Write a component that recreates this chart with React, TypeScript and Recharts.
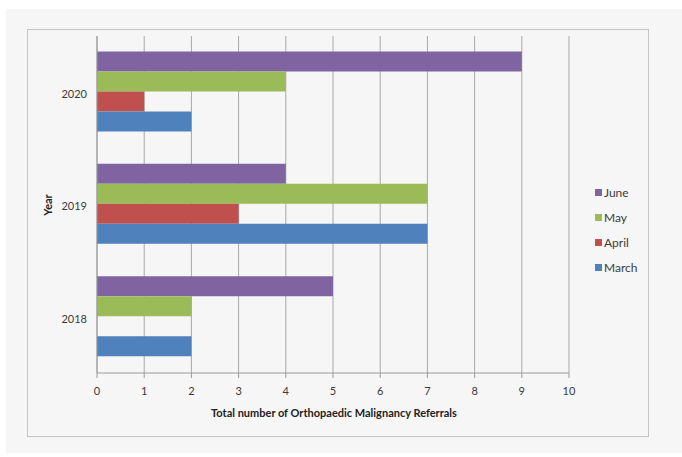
import React from 'react';
import { BarChart, Bar, XAxis, YAxis, CartesianGrid, Legend } from 'recharts';

const years = ['2020', '2019', '2018'];
const marchValues = [2, 7, 2];
const aprilValues = [1, 3, 0];
const mayValues = [4, 7, 2];
const juneValues = [9, 4, 5];
const xTicks = [0, 1, 2, 3, 4, 5, 6, 7, 8, 9, 10];
const boundaryTicks = [0, 1, 2, 3];

const seriesNames = ['June', 'May', 'April', 'March'];
const seriesColors = ['#8064A2', '#9BBB59', '#C0504D', '#4F81BD'];

const data = years.map((y, i) => ({
  year: y,
  March: marchValues[i],
  April: aprilValues[i],
  May: mayValues[i],
  June: juneValues[i],
}));

const FONT = 'Lato, "Open Sans", sans-serif';
const TEXT = '#3a3a3a';

const renderLegend = () => (
  <div style={{ fontFamily: FONT, fontSize: 12, color: TEXT }}>
    {seriesNames.map((name, i) => (
      <div key={name} style={{ display: 'flex', alignItems: 'center', height: 25 }}>
        <span style={{ display: 'inline-block', width: 7, height: 7, background: seriesColors[i], marginRight: 2 }} />
        <span>{name}</span>
      </div>
    ))}
  </div>
);

export default function App() {
  return (
    <div style={{ position: 'absolute', left: 0, top: 0, width: 682, height: 457, background: '#ffffff' }}>
      <div style={{ position: 'absolute', left: 6, top: 9, width: 676, height: 444, background: '#f6f6f6' }} />
      <div style={{ position: 'absolute', left: 27, top: 29, width: 622, height: 408, border: '1px solid #c4c4c4', boxSizing: 'border-box' }} />
      <div style={{ position: 'absolute', left: 0, top: 0 }}>
        <BarChart
          width={682}
          height={457}
          data={data}
          layout="vertical"
          margin={{ top: 36, right: 113, bottom: 0, left: 0 }}
          barCategoryGap={15.5}
          barGap={0}
        >
          <CartesianGrid horizontal={false} stroke="#a8a8a8" strokeWidth={1} />
          <XAxis
            type="number"
            domain={[0, 10]}
            ticks={xTicks}
            interval={0}
            height={84}
            tickSize={5}
            tickMargin={9}
            stroke="#9a9a9a"
            tick={{ fill: TEXT, fontSize: 11, fontFamily: FONT }}
            label={{
              content: () => (
                <text x={334} y={417} textAnchor="middle" fill="#222" fontSize={11} fontWeight="bold" fontFamily={FONT}>
                  Total number of Orthopaedic Malignancy Referrals
                </text>
              ),
            }}
          />
          <YAxis
            yAxisId="cat"
            type="category"
            dataKey="year"
            width={97}
            tickLine={false}
            tickMargin={4}
            stroke="#9a9a9a"
            tick={{ fill: TEXT, fontSize: 11, fontFamily: FONT, dy: 2 }}
            label={{
              content: () => (
                <text x={52} y={205} transform="rotate(-90 52 205)" textAnchor="middle" fill="#222" fontSize={11} fontWeight="bold" fontFamily={FONT}>
                  Year
                </text>
              ),
            }}
          />
          <YAxis
            yAxisId="b"
            type="number"
            domain={[0, 3]}
            ticks={boundaryTicks}
            interval={0}
            width={0}
            tickSize={4}
            tick={() => <g />}
            axisLine={false}
            stroke="#9a9a9a"
          />
          <Legend
            layout="vertical"
            align="center"
            verticalAlign="middle"
            content={renderLegend}
            wrapperStyle={{ position: 'absolute', left: 595, top: 180, width: 60 }}
          />
          {seriesNames.map((name, i) => (
            <Bar key={name} yAxisId="cat" dataKey={name} fill={seriesColors[i]} isAnimationActive={false} />
          ))}
        </BarChart>
      </div>
    </div>
  );
}
